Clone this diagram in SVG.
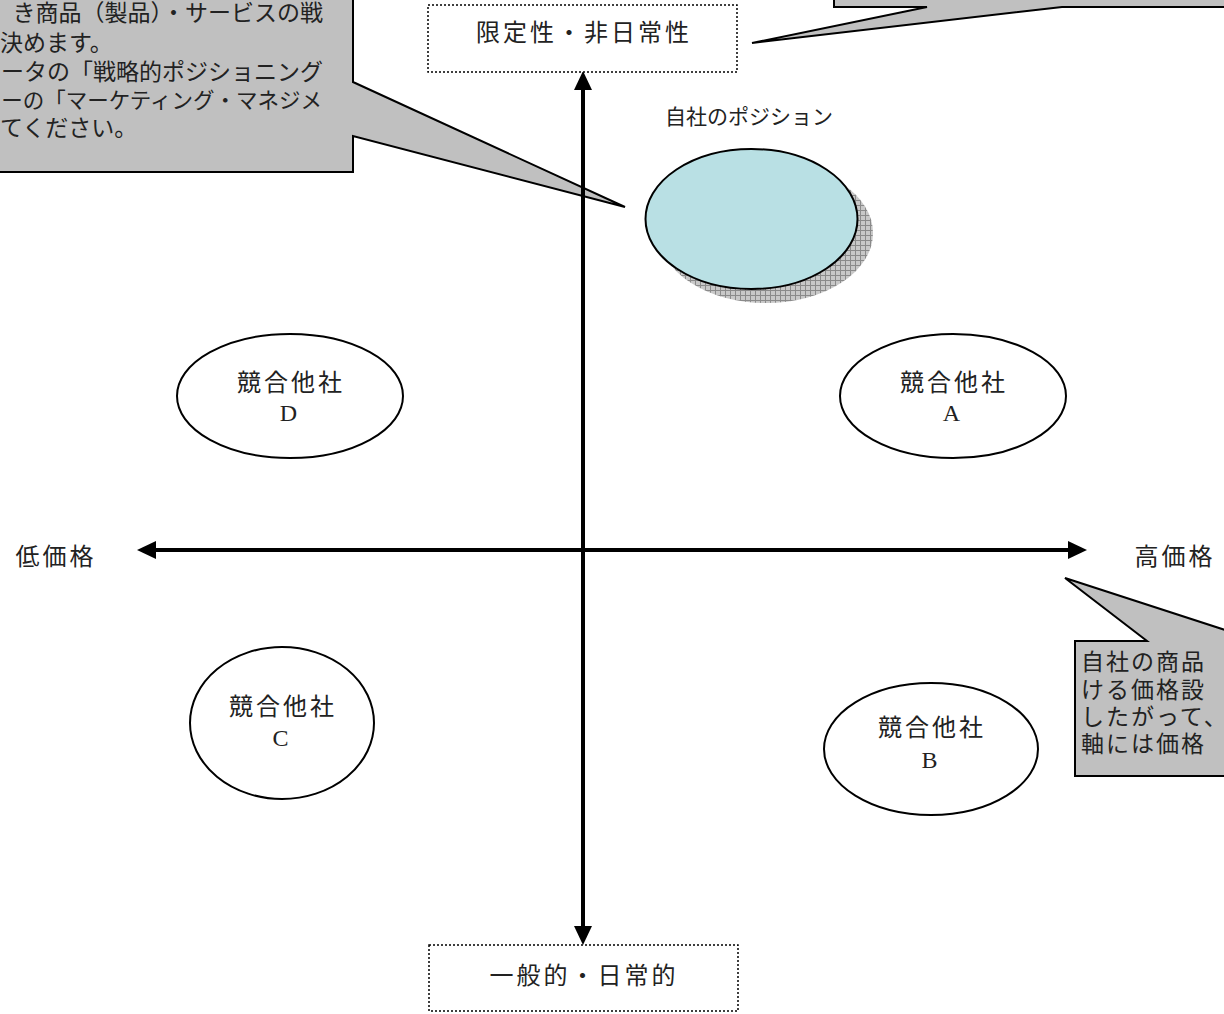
<svg xmlns="http://www.w3.org/2000/svg" width="1224" height="1014" viewBox="0 0 1224 1014">
<style>
.t{font-family:"Liberation Serif","Noto Sans CJK JP",serif;fill:#222;}
.lbl{font-size:24px;letter-spacing:3px;text-anchor:middle;}
.co{font-size:23px;}
.callout{fill:#c0c0c0;stroke:#000;stroke-width:2;stroke-linejoin:miter;}
.box{fill:#fff;stroke:#000;stroke-width:1.5;stroke-dasharray:2 2;}
.comp{fill:#fff;stroke:#000;stroke-width:2;}
.axis{stroke:#000;stroke-width:4;fill:none;}
</style>
<defs>
<marker id="ah" markerUnits="userSpaceOnUse" markerWidth="20" markerHeight="18" refX="5" refY="9" orient="auto-start-reverse">
<path d="M0,0 L19,9 L0,18 z" fill="#000"/>
</marker>
<pattern id="grid" width="5" height="5" patternUnits="userSpaceOnUse">
<rect width="5" height="5" fill="#c8c8c8"/>
<path d="M0,0.5 H5 M0.5,0 V5" stroke="#8a8a8a" stroke-width="1"/>
</pattern>
</defs>
<rect width="1224" height="1014" fill="#fff"/>

<g id="callout-top-left">
<polygon class="callout" points="-10,-10 353,-10 353,82 625,207 353,136 353,172 -10,172"/>
<text class="t co" x="323" y="21" text-anchor="end">き商品（製品）・サービスの戦</text>
<text class="t co" x="0" y="51">決めます。</text>
<text class="t co" x="323" y="80" text-anchor="end">ータの「戦略的ポジショニング</text>
<text class="t co" x="322" y="108" text-anchor="end" style="font-size:21.5px">ーの「マーケティング・マネジメ</text>
<text class="t co" x="0" y="136">てください。</text>
</g>

<g id="callout-top-right">
<polygon class="callout" points="834,-10 834,7 927,7 752,43 1062,7 1240,7 1240,-10"/>
</g>

<g id="callout-bottom-right">
<polygon class="callout" points="1075,641 1147,641 1065,578 1259,641 1300,641 1300,776 1075,776"/>
<text class="t co" x="1081" y="670" letter-spacing="2">自社の商品</text>
<text class="t co" x="1081" y="698" letter-spacing="2">ける価格設</text>
<text class="t co" x="1081" y="725" letter-spacing="2">したがって、</text>
<text class="t co" x="1081" y="752" letter-spacing="2">軸には価格</text>
</g>

<g id="axes">
<line class="axis" x1="583" y1="85" x2="583" y2="931" marker-start="url(#ah)" marker-end="url(#ah)"/>
<line class="axis" x1="151" y1="550" x2="1073" y2="550" marker-start="url(#ah)" marker-end="url(#ah)"/>
</g>

<g id="box-top">
<rect class="box" x="428" y="5" width="309" height="67"/>
<text class="t lbl" x="584" y="41">限定性・非日常性</text>
</g>
<g id="box-bottom">
<rect class="box" x="429" y="945" width="309" height="66"/>
<text class="t lbl" x="584" y="984">一般的・日常的</text>
</g>

<g id="label-low">
<text class="t lbl" x="56" y="565">低価格</text>
</g>
<g id="label-high">
<text class="t lbl" x="1175" y="565">高価格</text>
</g>

<g id="own-position">
<text class="t" x="749" y="124" font-size="21" text-anchor="middle">自社のポジション</text>
<ellipse cx="766" cy="233" rx="107" ry="70" fill="url(#grid)"/>
<ellipse cx="751.5" cy="219" rx="106" ry="70" fill="#b9e0e4" stroke="#000" stroke-width="2"/>
</g>

<g id="comp-d">
<ellipse class="comp" cx="290" cy="396" rx="113" ry="62"/>
<text class="t lbl" x="291" y="391">競合他社</text>
<text class="t lbl" x="290" y="421" letter-spacing="0">D</text>
</g>
<g id="comp-a">
<ellipse class="comp" cx="953" cy="396" rx="113" ry="62"/>
<text class="t lbl" x="954" y="391">競合他社</text>
<text class="t lbl" x="953" y="421" letter-spacing="0">A</text>
</g>
<g id="comp-c">
<ellipse class="comp" cx="282" cy="723" rx="92" ry="76"/>
<text class="t lbl" x="283" y="715">競合他社</text>
<text class="t lbl" x="282" y="746" letter-spacing="0">C</text>
</g>
<g id="comp-b">
<ellipse class="comp" cx="931" cy="749" rx="107" ry="66"/>
<text class="t lbl" x="932" y="736">競合他社</text>
<text class="t lbl" x="931" y="768" letter-spacing="0">B</text>
</g>
</svg>
